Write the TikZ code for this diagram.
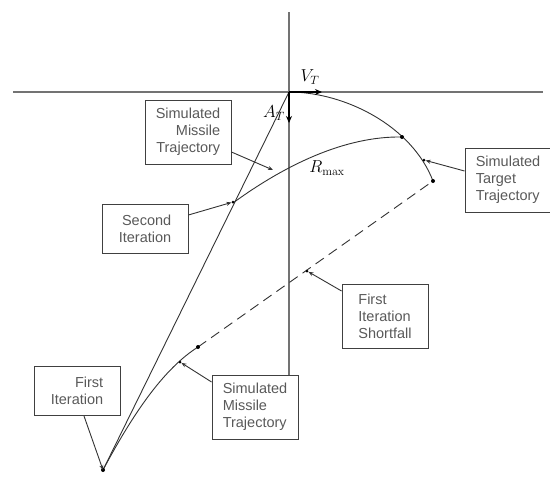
\documentclass[tikz,border=0pt]{standalone}
\usepackage[no-math]{fontspec}
\setmainfont{Liberation Sans}
\usepackage{tikz}
\usetikzlibrary{calc,arrows.meta}

\tikzset{
  box/.style={draw=black!75, line width=0.9pt, minimum width=86pt, minimum height=64pt,
    inner sep=0pt, text=black!65, font=\fontsize{14.5}{17}\selectfont},
  boxtwo/.style={box, minimum height=49pt},
  ptr/.style={line width=0.9pt, black!80, -{Stealth[length=5pt,width=4pt]}},
  axis/.style={line width=1.6pt, black!55},
  traj/.style={line width=0.9pt, black!80},
  dot/.style={circle, fill=black, inner sep=0pt, minimum size=4pt},
  sym/.style={font=\fontsize{18}{18}\selectfont}
}

\begin{document}
\begin{tikzpicture}[x=1pt, y=-1pt]
    \useasboundingbox (0,0) rectangle (550,477);

    %coordinates
    \coordinate (O) at (289,92); % intercept point
    \coordinate (L) at (103,470); % launch
    \coordinate (T) at (433,181); % target end
    \coordinate (M) at (402,137); % second iteration hit
    \coordinate (S) at (233,203); % second iteration
    \coordinate (F) at (198,347); % first iteration end

    %axes
    \draw[axis] (13,92) -- (543,92);
    \draw[axis] (289,12) -- (289,375);

    %trajectories
    \draw[traj] (L) -- (O);
    \draw[traj] (O) .. controls (345,92) and (412,126) .. (T);
    \draw[traj] (S) .. controls (285,165) and (345,136) .. (M);
    \draw[traj] (L) .. controls (135,410) and (165,368) .. (F);
    \draw[traj, dash pattern=on 10pt off 6pt] (F) -- (T);

    %dots
    \foreach \p in {M,T,F,L}
        \node[dot] at (\p) {};
    \node[dot, minimum size=3pt] (d1) at (424,160) {};
    \node[dot, minimum size=3pt] (d2) at (180,362) {};
    \node[dot, minimum size=3pt] (d3) at (307,271) {};
    \node[dot, minimum size=3pt] (d4) at (233,202) {};
    \coordinate (d5) at (273,170);

    %vectors
    \draw[line width=1.6pt, -{Stealth[length=7pt,width=6pt]}] (O) -- (322,92);
    \draw[line width=1.6pt, -{Stealth[length=7pt,width=6pt]}] (O) -- (289,123);
    \node[sym] (vt) at (310,77) {$V_T$};
    \node[sym] (at) at (274,113) {$A_T$};
    \node[sym] (rm) at (327,168) {$R_{\max}$};

    %labels
    \node[box, align=right] (smt) at (188,132) {Simulated\\Missile\\Trajectory};
    \node[box, align=left] (stt) at (508,180) {Simulated\\Target\\Trajectory};
    \node[boxtwo, align=right] (si) at (145,229) {Second\\Iteration};
    \node[box, align=left] (fis) at (385,316) {First\\Iteration\\Shortfall};
    \node[boxtwo, align=right] (fi) at (77,391) {First\\Iteration};
    \node[box, align=left] (smb) at (255,407) {Simulated\\Missile\\Trajectory};

    %pointers
    \draw[ptr] (smt.east |- 0,152) -- (d5);
    \draw[ptr] (stt.west |- 0,171) -- (d1);
    \draw[ptr] (si.east |- 0,215) -- (d4);
    \draw[ptr] (fis.west |- 0,291) -- (d3);
    \draw[ptr] (84,416) -- (L);
    \draw[ptr] (smb.west |- 0,382) -- (d2);

\end{tikzpicture}
\end{document}
